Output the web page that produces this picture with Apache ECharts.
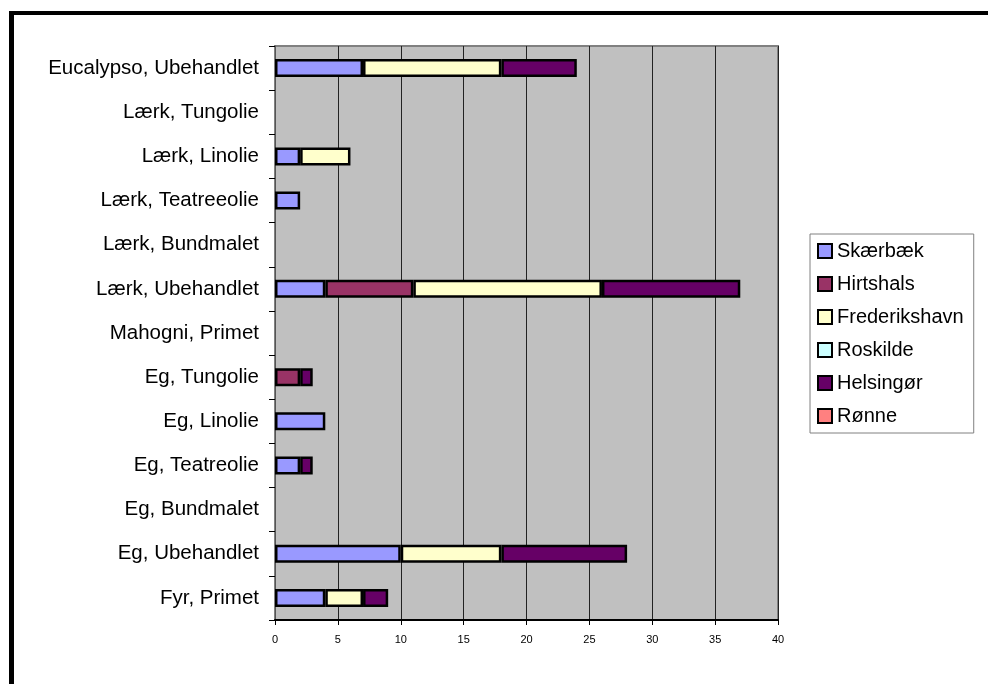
<!DOCTYPE html>
<html>
<head>
<meta charset="utf-8">
<title>Fund pr. træsort og behandling</title>
<script src="https://cdn.jsdelivr.net/npm/echarts@6/dist/echarts.min.js"></script>
<style>
  html, body { margin: 0; padding: 0; background: #ffffff; }
  #chart { width: 988px; height: 684px; }
</style>
</head>
<body>
<div id="chart"></div>
<script>
// Categories, listed top to bottom
const categories = [
  'Eucalypso, Ubehandlet',
  'Lærk, Tungolie',
  'Lærk, Linolie',
  'Lærk, Teatreeolie',
  'Lærk, Bundmalet',
  'Lærk, Ubehandlet',
  'Mahogni, Primet',
  'Eg, Tungolie',
  'Eg, Linolie',
  'Eg, Teatreolie',
  'Eg, Bundmalet',
  'Eg, Ubehandlet',
  'Fyr, Primet'
];

// Counts per location, same order as categories
const skaerbaek     = [7, 0, 2, 2, 0, 4, 0, 0, 4, 2, 0, 10, 4];
const hirtshals     = [0, 0, 0, 0, 0, 7, 0, 2, 0, 0, 0, 0, 0];
const frederikshavn = [11, 0, 4, 0, 0, 15, 0, 0, 0, 0, 0, 8, 3];
const roskilde      = [0, 0, 0, 0, 0, 0, 0, 0, 0, 0, 0, 0, 0];
const helsingoer    = [6, 0, 0, 0, 0, 11, 0, 1, 0, 1, 0, 10, 2];
const roenne        = [0, 0, 0, 0, 0, 0, 0, 0, 0, 0, 0, 0, 0];

const xTicks = [0, 5, 10, 15, 20, 25, 30, 35, 40];

const seriesDefs = [
  { name: 'Skærbæk', data: skaerbaek, color: '#9999FF' },
  { name: 'Hirtshals', data: hirtshals, color: '#993366' },
  { name: 'Frederikshavn', data: frederikshavn, color: '#FFFFCC' },
  { name: 'Roskilde', data: roskilde, color: '#CCFFFF' },
  { name: 'Helsingør', data: helsingoer, color: '#660066' },
  { name: 'Rønne', data: roenne, color: '#FF8080' }
];

const FONT = '"Liberation Sans", Arial, sans-serif';

const chart = echarts.init(document.getElementById('chart'), null, { renderer: 'canvas' });

chart.setOption({
  backgroundColor: '#ffffff',
  animation: false,
  textStyle: { fontFamily: FONT, color: '#000' },
  graphic: [
    // heavy frame along the top and left edges
    { type: 'rect', silent: true, shape: { x: 9, y: 11, width: 979, height: 4 }, style: { fill: '#000' } },
    { type: 'rect', silent: true, shape: { x: 9, y: 11, width: 5, height: 673 }, style: { fill: '#000' } }
  ],
  grid: {
    left: 275,
    right: 210,
    top: 46,
    bottom: 64,
    show: true,
    backgroundColor: '#C0C0C0',
    borderColor: '#808080',
    borderWidth: 2
  },
  legend: {
    orient: 'vertical',
    left: 810,
    top: 234,
    padding: [7, 10, 7, 7],
    borderColor: '#808080',
    borderWidth: 1,
    backgroundColor: '#ffffff',
    itemWidth: 14,
    itemHeight: 14,
    itemGap: 13,
    icon: 'rect',
    selectedMode: false,
    textStyle: { fontFamily: FONT, fontSize: 20, color: '#000', lineHeight: 20 },
    data: seriesDefs.map(s => s.name)
  },
  xAxis: {
    type: 'value',
    min: xTicks[0],
    max: xTicks[xTicks.length - 1],
    interval: 5,
    axisLine: { show: true, lineStyle: { color: '#000', width: 2 } },
    axisTick: { show: true, length: 5, lineStyle: { color: '#000', width: 1 } },
    axisLabel: { fontFamily: FONT, fontSize: 11, color: '#000', margin: 14 },
    splitLine: { show: true, lineStyle: { color: '#222', width: 1 } }
  },
  yAxis: {
    type: 'category',
    inverse: true,
    data: categories,
    axisLine: { show: true, lineStyle: { color: '#555', width: 1 } },
    axisTick: { show: true, length: 6, lineStyle: { color: '#000' } },
    axisLabel: { fontFamily: FONT, fontSize: 20.5, color: '#000', margin: 16 },
    splitLine: { show: false }
  },
  series: seriesDefs.map(s => ({
    name: s.name,
    type: 'bar',
    stack: 'total',
    barWidth: 18,
    data: s.data.map(v => (v === 0 ? null : v)),
    itemStyle: { color: s.color, borderColor: '#000', borderWidth: 2.5 },
    emphasis: { disabled: true }
  }))
});
</script>
</body>
</html>
